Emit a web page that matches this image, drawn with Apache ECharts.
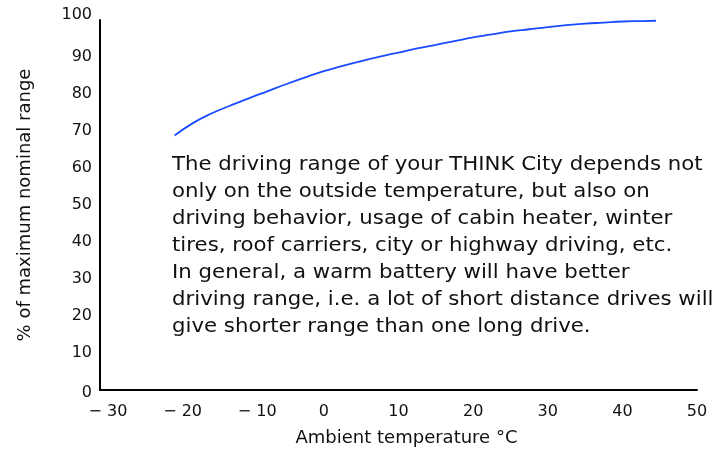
<!DOCTYPE html>
<html>
<head>
<meta charset="utf-8">
<script src="https://cdn.jsdelivr.net/npm/echarts@6/dist/echarts.min.js"></script>
<style>
  html, body { margin: 0; padding: 0; background: #fff; }
  #chart { width: 723px; height: 452px; }
</style>
</head>
<body>
<div id="chart"></div>
<script>
// 数据：外部温度 (°C) 与最大续航百分比
var temps = [-20, -17.5, -15, -12.5, -10, -7.5, -5, -2.5, 0, 2.5, 5, 7.5, 10, 12.5, 15, 17.5,
             20, 22.5, 25, 27.5, 30, 32.5, 35, 37.5, 40, 42.5, 44.5];
var rangePct = [68.8, 72.2, 74.8, 76.9, 78.9, 80.8, 82.7, 84.5, 86.2, 87.6, 88.9, 90.1, 91.2, 92.3, 93.3, 94.3,
                95.3, 96.1, 96.9, 97.5, 98.1, 98.6, 99.0, 99.3, 99.6, 99.7, 99.8];

var xTitle = 'Ambient temperature °C';
var yTitle = '% of maximum nominal range';
var noteLines = [
  'The driving range of your THINK City depends not',
  'only on the outside temperature, but also on',
  'driving behavior, usage of cabin heater, winter',
  'tires, roof carriers, city or highway driving, etc.',
  'In general, a warm battery will have better',
  'driving range, i.e. a lot of short distance drives will',
  'give shorter range than one long drive.'
];

var font = '"DejaVu Sans", sans-serif';

var chart = echarts.init(document.getElementById('chart'));

var points = temps.map(function (t, i) { return [t, rangePct[i]]; });

var option = {
  animation: false,
  grid: { left: 100, right: 26, top: 20, bottom: 60 },
  xAxis: {
    type: 'value',
    min: -30,
    max: 50,
    interval: 10,
    name: xTitle,
    nameLocation: 'middle',
    nameGap: 39,
    nameTextStyle: { fontFamily: font, fontSize: 18, color: '#111', padding: [0, 0, 0, 16] },
    axisLine: { show: true, onZero: false, lineStyle: { color: '#000', width: 2 } },
    axisTick: { show: false },
    splitLine: { show: false },
    axisLabel: {
      margin: 14,
      fontFamily: font,
      fontSize: 16,
      color: '#111',
      formatter: function (v) {
        return v < 0 ? '{n|\u2212 ' + Math.abs(v) + '}' : String(v);
      },
      rich: {
        n: { fontFamily: font, fontSize: 16, color: '#111', padding: [0, 0, 0, 16] }
      }
    }
  },
  yAxis: {
    type: 'value',
    min: 0,
    max: 100,
    interval: 10,
    name: yTitle,
    nameLocation: 'middle',
    nameGap: 66,
    nameRotate: 90,
    nameTextStyle: { fontFamily: font, fontSize: 18, color: '#111' },
    axisLine: { show: true, onZero: false, lineStyle: { color: '#000', width: 2 } },
    axisTick: { show: false },
    splitLine: { show: false },
    axisLabel: {
      margin: 8,
      fontFamily: font,
      fontSize: 16,
      color: '#111',
      formatter: function (v) {
        if (v === 100) return '{t|100}';
        if (v === 0) return '{b|0}';
        return String(v);
      },
      rich: {
        t: { fontFamily: font, fontSize: 16, color: '#111', padding: [0, 0, 10, 0] },
        b: { fontFamily: font, fontSize: 16, color: '#111', padding: [6, 0, 0, 0] }
      }
    }
  },
  series: [
    {
      type: 'line',
      data: points,
      smooth: true,
      showSymbol: false,
      lineStyle: { color: '#1a4cff', width: 1.8 }
    }
  ],
  graphic: [
    {
      type: 'text',
      left: 172,
      top: 152,
      scaleX: 1.12,
      style: {
        text: noteLines.join('\n'),
        font: '19px ' + font,
        lineHeight: 27,
        fill: '#111'
      }
    }
  ]
};

chart.setOption(option);
</script>
</body>
</html>
